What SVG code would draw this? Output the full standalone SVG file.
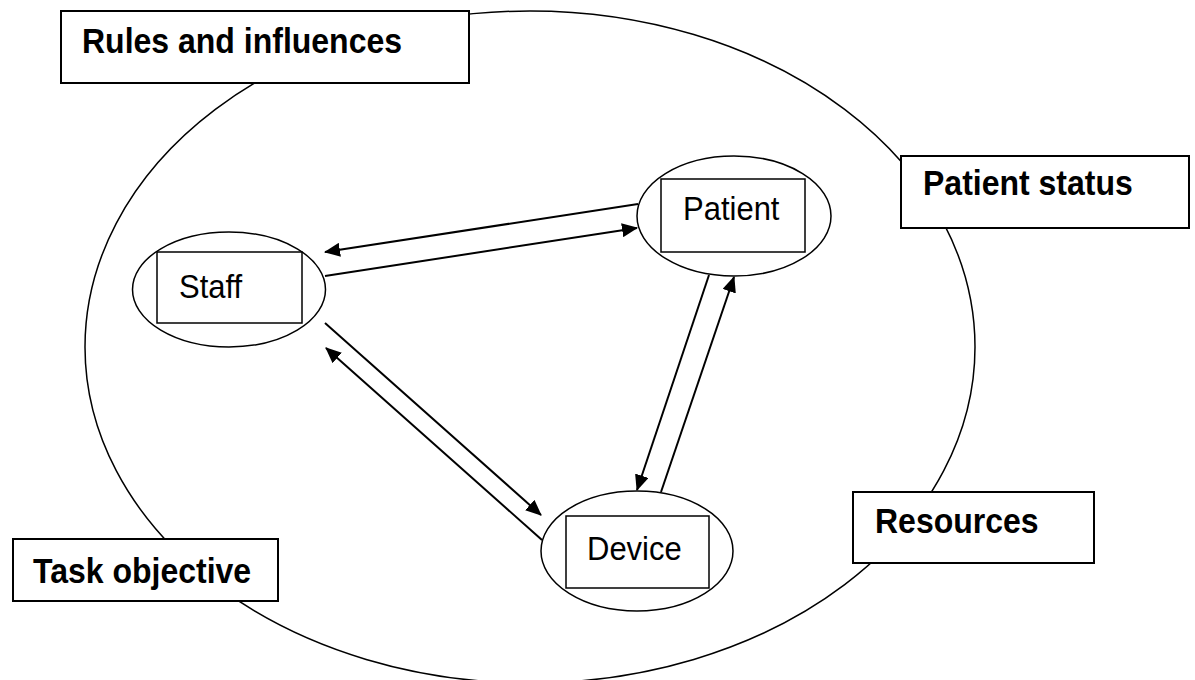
<svg xmlns="http://www.w3.org/2000/svg" width="1195" height="680" viewBox="0 0 1195 680">
<style>
.bg{fill:#fff}
.outer{fill:none;stroke:#000;stroke-width:1.5}
.label rect{fill:#fff;stroke:#000;stroke-width:2}
.label text{font-family:"Liberation Sans",Arial,sans-serif;font-weight:bold;font-size:32px;fill:#000}
.node ellipse{fill:#fff;stroke:#000;stroke-width:1.5}
.node rect{fill:#fff;stroke:#000;stroke-width:1.5}
.node text{font-family:"Liberation Sans",Arial,sans-serif;font-size:31px;fill:#000}
.conn line{stroke:#000;stroke-width:2;fill:none;marker-end:url(#ah)}
</style>
<defs>
<marker id="ah" markerUnits="userSpaceOnUse" viewBox="0 0 16 14" markerWidth="16" markerHeight="14" refX="15" refY="7" orient="auto">
<path d="M0,0 L16,7 L0,14 z" fill="#000"/>
</marker>
</defs>
<rect class="bg" x="0" y="0" width="1195" height="680"/>
<g id="context">
<ellipse class="outer" cx="530" cy="347" rx="445" ry="336"/>
</g>
<g id="rules" class="label">
<rect x="61" y="11" width="408" height="72"/>
<text transform="translate(82,53) scale(1,1.09)">Rules and influences</text>
</g>
<g id="patient-status" class="label">
<rect x="901" y="156" width="288" height="72"/>
<text transform="translate(923,195) scale(1,1.09)">Patient status</text>
</g>
<g id="resources" class="label">
<rect x="853" y="492" width="241" height="71"/>
<text transform="translate(875,533) scale(1,1.09)">Resources</text>
</g>
<g id="task-objective" class="label">
<rect x="13" y="539" width="265" height="62"/>
<text transform="translate(33,583) scale(1,1.09)">Task objective</text>
</g>
<g id="staff" class="node">
<ellipse cx="229" cy="289.5" rx="96.5" ry="57.5"/>
<rect x="157" y="252" width="145" height="71"/>
<text transform="translate(179,298) scale(1,1.07)">Staff</text>
</g>
<g id="patient" class="node">
<ellipse cx="734" cy="216" rx="97" ry="60"/>
<rect x="661" y="179" width="144" height="73"/>
<text transform="translate(683,220) scale(1,1.07)">Patient</text>
</g>
<g id="device" class="node">
<ellipse cx="637" cy="551" rx="96" ry="60"/>
<rect x="566" y="516" width="143" height="72"/>
<text transform="translate(587,560) scale(1,1.07)">Device</text>
</g>
<g id="connectors" class="conn">
<line x1="638" y1="204" x2="325" y2="252"/>
<line x1="325" y1="276" x2="637" y2="228"/>
<line x1="709" y1="275" x2="637" y2="490"/>
<line x1="661" y1="492" x2="734" y2="277"/>
<line x1="325" y1="323" x2="541" y2="515"/>
<line x1="542" y1="540" x2="326" y2="348"/>
</g>
</svg>
